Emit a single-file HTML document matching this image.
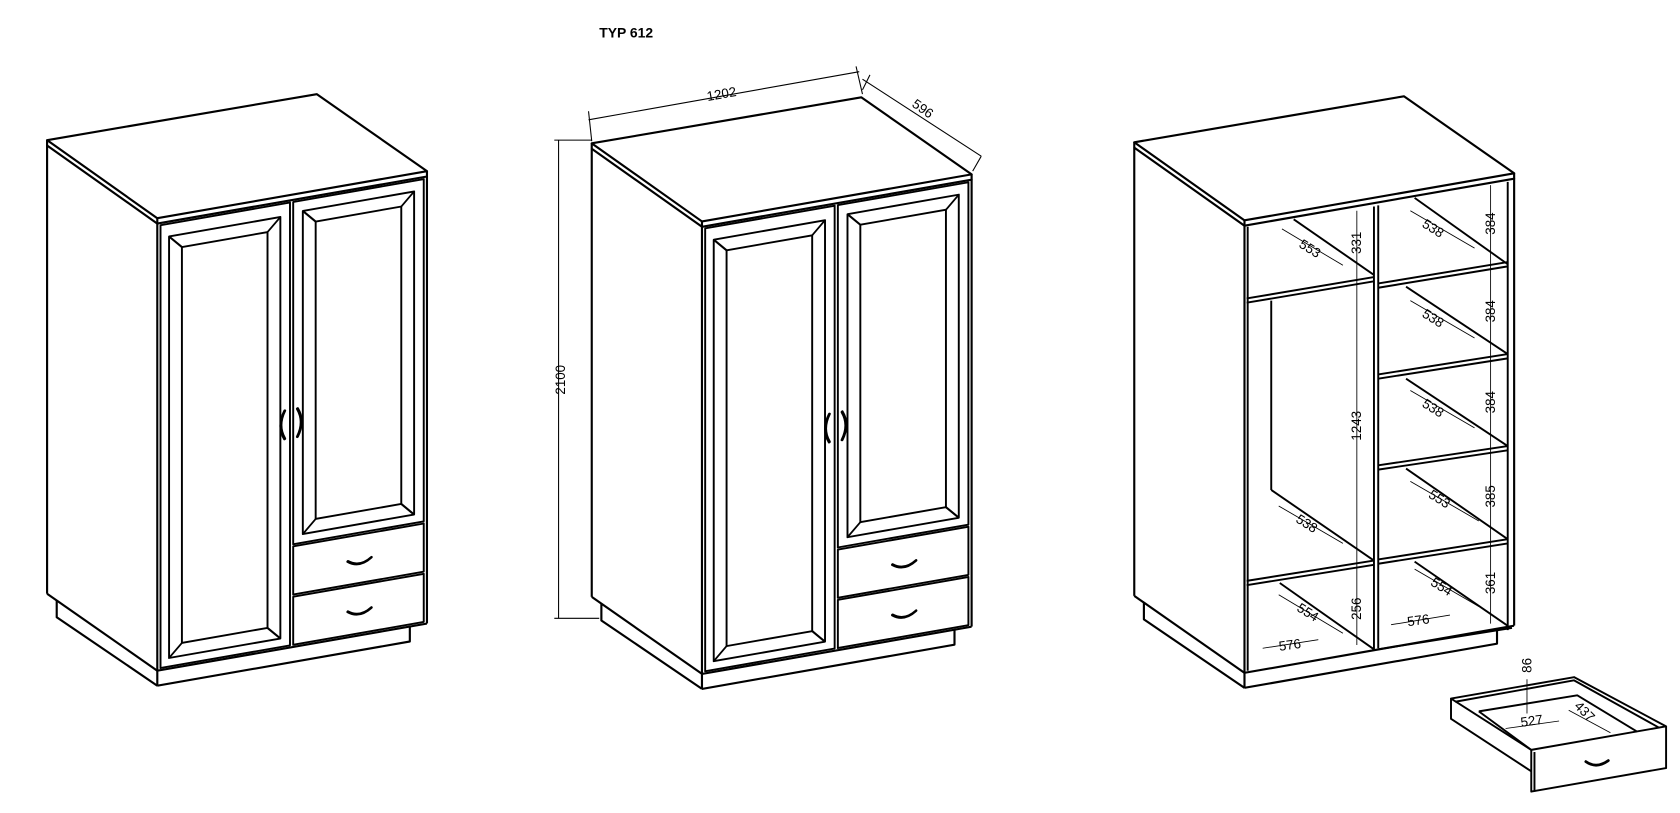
<!DOCTYPE html>
<html><head><meta charset="utf-8"><style>
html,body{margin:0;padding:0;background:#fff;}
svg{display:block}
text{font-family:"Liberation Sans",Arial,sans-serif;fill:#000}
</style></head><body>
<svg width="1680" height="813" viewBox="0 0 1570 760" preserveAspectRatio="none" xmlns="http://www.w3.org/2000/svg">
<defs>
<g id="shell" fill="none" stroke="#000" stroke-width="2" stroke-linejoin="round">
  <polygon points="44,131 296,88 399,160 147,204"/>
  <polyline points="44,131 44,136 147,209 399,165 399,160"/>
  <line x1="147" y1="204" x2="147" y2="209"/>
  <line x1="44" y1="136" x2="44" y2="555"/>
  <line x1="44" y1="555" x2="147" y2="627"/>
  <polyline points="53,561 53,577 147,641"/>
  <line x1="147" y1="209" x2="147" y2="641"/>
  <g transform="translate(147,209) skewY(-9.93)">
    <line x1="0" y1="418" x2="252" y2="418"/>
    <line x1="252" y1="0" x2="252" y2="418"/>
    <polyline points="236,418 236,432 0,432"/>
  </g>
</g>
<g id="front" fill="none" stroke="#000" stroke-width="1.8" stroke-linejoin="round">
  <g transform="translate(147,209) skewY(-9.93)">
    <rect x="3" y="2" width="121" height="414"/>
    <rect x="127" y="2" width="122" height="320"/>
    <rect x="11" y="14" width="104" height="394"/>
    <rect x="23" y="26" width="80" height="370"/>
    <path d="M11 14 L23 26 M115 14 L103 26 M11 408 L23 396 M115 408 L103 396"/>
    <rect x="136" y="12" width="104" height="302"/>
    <rect x="148" y="24" width="80" height="278"/>
    <path d="M136 12 L148 24 M240 12 L228 24 M136 314 L148 302 M240 314 L228 302"/>
    <rect x="127" y="324" width="122" height="45"/>
    <rect x="127" y="371" width="122" height="45"/>
    <path d="M178 347 q 11 8 22 0 M178 394 q 11 8 22 0" stroke-width="2.6" stroke-linecap="round"/>
    <path d="M119 196 q -7 13 0 26 M131 196 q 7 13 0 26" stroke-width="2.8" stroke-linecap="round"/>
  </g>
</g>
</defs>

<text x="560" y="35" font-size="13" font-weight="bold">TYP 612</text>

<use href="#shell"/>
<use href="#front"/>
<use href="#shell" x="509" y="3"/>
<use href="#front" x="509" y="3"/>
<use href="#shell" x="1016" y="2"/>

<!-- middle dims -->
<g stroke="#000" stroke-width="1" fill="none">
  <line x1="550" y1="112" x2="803" y2="67"/>
  <line x1="550" y1="104" x2="553" y2="132"/>
  <line x1="800" y1="62" x2="806" y2="88"/>
  <line x1="806" y1="74" x2="917" y2="146"/>
  <line x1="813" y1="70" x2="806" y2="84"/>
  <line x1="917" y1="146" x2="909" y2="160"/>
  <line x1="522" y1="131" x2="522" y2="578"/>
  <line x1="518" y1="131" x2="553" y2="131"/>
  <line x1="518" y1="578" x2="560" y2="578"/>
</g>
<text font-size="12.5" transform="translate(675,92) rotate(-10)" text-anchor="middle">1202</text>
<text font-size="12.5" transform="translate(860,105) rotate(35)" text-anchor="middle">596</text>
<text font-size="12.5" transform="translate(528,355) rotate(-90)" text-anchor="middle">2100</text>

<!-- right wardrobe interior -->
<g fill="none" stroke="#000" stroke-width="1.8">
  <line x1="1166" y1="212" x2="1166" y2="627"/>
  <line x1="1284" y1="193" x2="1284" y2="607"/>
  <line x1="1288" y1="192" x2="1288" y2="606"/>
  <line x1="1409" y1="170" x2="1409" y2="589"/>
  <line x1="1165" y1="279" x2="1284" y2="259"/>
  <line x1="1165" y1="283" x2="1284" y2="263"/>
  <line x1="1209" y1="205" x2="1284" y2="257"/>
  <line x1="1188" y1="281" x2="1188" y2="458"/>
  <line x1="1188" y1="458" x2="1284" y2="524"/>
  <line x1="1165" y1="543" x2="1284" y2="524"/>
  <line x1="1165" y1="547" x2="1284" y2="528"/>
  <line x1="1196" y1="545" x2="1284" y2="607"/>
  <line x1="1288" y1="265" x2="1409" y2="245"/>
  <line x1="1288" y1="269" x2="1409" y2="249"/>
  <line x1="1288" y1="350" x2="1409" y2="331"/>
  <line x1="1288" y1="354" x2="1409" y2="335"/>
  <line x1="1288" y1="435" x2="1409" y2="417"/>
  <line x1="1288" y1="439" x2="1409" y2="421"/>
  <line x1="1288" y1="523" x2="1409" y2="504"/>
  <line x1="1288" y1="527" x2="1409" y2="508"/>
  <line x1="1288" y1="607" x2="1413" y2="587"/>
  <line x1="1322" y1="185" x2="1409" y2="247"/>
  <line x1="1314" y1="268" x2="1409" y2="331"/>
  <line x1="1314" y1="354" x2="1409" y2="417"/>
  <line x1="1314" y1="438" x2="1409" y2="504"/>
  <line x1="1322" y1="525" x2="1409" y2="585"/>
</g>
<g fill="none" stroke="#000" stroke-width="0.8">
  <line x1="1268" y1="197" x2="1268" y2="603"/>
  <line x1="1393" y1="173" x2="1393" y2="583"/>
  <line x1="1198" y1="214" x2="1255" y2="248"/>
  <line x1="1318" y1="197" x2="1378" y2="232"/>
  <line x1="1318" y1="281" x2="1378" y2="316"/>
  <line x1="1318" y1="365" x2="1378" y2="400"/>
  <line x1="1318" y1="450" x2="1382" y2="487"/>
  <line x1="1195" y1="473" x2="1255" y2="508"/>
  <line x1="1195" y1="556" x2="1255" y2="592"/>
  <line x1="1322" y1="532" x2="1382" y2="567"/>
  <line x1="1180" y1="606" x2="1232" y2="598"/>
  <line x1="1300" y1="584" x2="1355" y2="575"/>
</g>
<g font-size="12.5">
  <text transform="translate(1272,227) rotate(-90)" text-anchor="middle">331</text>
  <text transform="translate(1272,398) rotate(-90)" text-anchor="middle">1243</text>
  <text transform="translate(1272,569) rotate(-90)" text-anchor="middle">256</text>
  <text transform="translate(1397,209) rotate(-90)" text-anchor="middle">384</text>
  <text transform="translate(1397,291) rotate(-90)" text-anchor="middle">384</text>
  <text transform="translate(1397,376) rotate(-90)" text-anchor="middle">384</text>
  <text transform="translate(1397,464) rotate(-90)" text-anchor="middle">385</text>
  <text transform="translate(1397,545) rotate(-90)" text-anchor="middle">361</text>
  <text transform="translate(1222,236) rotate(32)" text-anchor="middle">553</text>
  <text transform="translate(1337,217) rotate(32)" text-anchor="middle">538</text>
  <text transform="translate(1337,301) rotate(32)" text-anchor="middle">538</text>
  <text transform="translate(1337,385) rotate(32)" text-anchor="middle">538</text>
  <text transform="translate(1343,470) rotate(32)" text-anchor="middle">553</text>
  <text transform="translate(1219,493) rotate(32)" text-anchor="middle">538</text>
  <text transform="translate(1220,576) rotate(32)" text-anchor="middle">554</text>
  <text transform="translate(1345,552) rotate(32)" text-anchor="middle">554</text>
  <text transform="translate(1206,607) rotate(-8)" text-anchor="middle">576</text>
  <text transform="translate(1326,584) rotate(-8)" text-anchor="middle">576</text>
</g>

<!-- drawer -->
<g fill="none" stroke="#000" stroke-width="1.8" stroke-linejoin="round">
  <polygon points="1356,653 1471,633 1557,679 1431,701"/>
  <polyline points="1360,656 1471,636 1550,680"/>
  <polyline points="1382,665 1474,650 1530,684"/>
  <line x1="1382" y1="665" x2="1431" y2="701"/>
  <polyline points="1356,653 1356,672 1431,721"/>
  <polyline points="1431,701 1431,740 1557,718 1557,679"/>
  <line x1="1434" y1="703" x2="1434" y2="740"/>
  <path d="M1482 712 q 10 7 21 -1" stroke-width="2.6" stroke-linecap="round"/>
</g>
<g fill="none" stroke="#000" stroke-width="0.8">
  <line x1="1427" y1="635" x2="1427" y2="667"/>
  <line x1="1407" y1="681" x2="1457" y2="674"/>
  <line x1="1466" y1="664" x2="1505" y2="685"/>
</g>
<text font-size="12.5" transform="translate(1431,622) rotate(-90)" text-anchor="middle">86</text>
<text font-size="12.5" transform="translate(1432,678) rotate(-8)" text-anchor="middle">527</text>
<text font-size="12.5" transform="translate(1478,668) rotate(45)" text-anchor="middle">437</text>
</svg>
</body></html>
